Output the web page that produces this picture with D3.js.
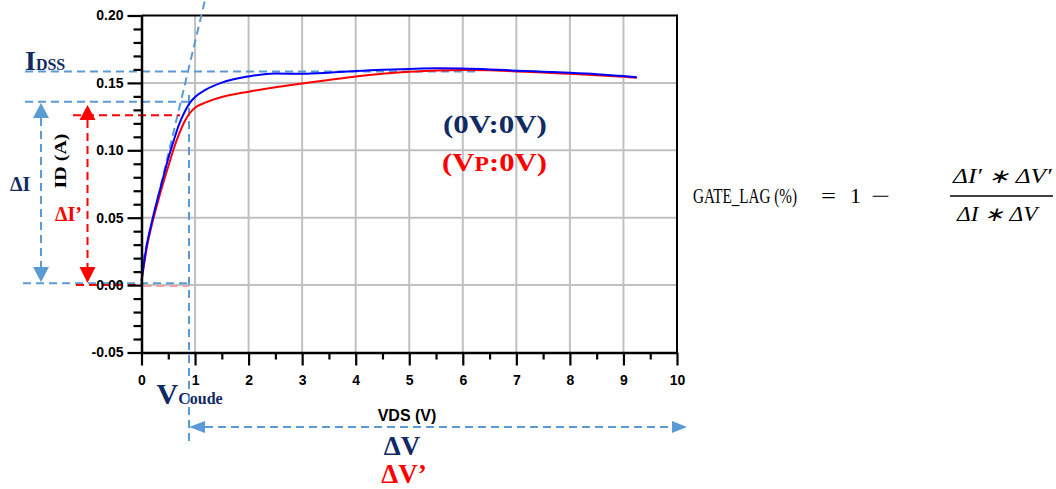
<!DOCTYPE html>
<html><head><meta charset="utf-8">
<script src="https://cdn.jsdelivr.net/npm/d3@7"></script>
<style>body{margin:0;background:#fff}</style>
</head><body>
<svg id="c" width="1056" height="489"></svg>
<script>
// ---- data ----
const vds    = [0,0.1,0.2,0.3,0.4,0.5,0.6,0.7,0.8,0.9,1.0,1.2,1.5,2.0,2.5,3.0,3.5,4.0,4.5,5.0,5.5,6.0,6.5,7.0,7.5,8.0,8.5,9.0,9.25];
const idBlue = [0.003,0.030,0.048,0.064,0.079,0.094,0.107,0.119,0.128,0.135,0.1395,0.145,0.1502,0.1548,0.157,0.1567,0.1575,0.1588,0.1598,0.1604,0.1608,0.1606,0.160,0.1591,0.1583,0.1575,0.1565,0.1551,0.1542];
const idRed  = [0.003,0.028,0.046,0.061,0.075,0.088,0.101,0.112,0.121,0.1275,0.1315,0.1355,0.1395,0.1435,0.1468,0.1495,0.1522,0.1548,0.1568,0.1582,0.1592,0.1596,0.1593,0.1585,0.1577,0.1567,0.1557,0.1545,0.1538];
const xTicks = [0,1,2,3,4,5,6,7,8,9,10];
const xTickLabels = ["0","1","2","3","4","5","6","7","8","9","10"];
const yTicks = [-0.05,0,0.05,0.10,0.15,0.20];
const yTickLabels = ["-0.05","0.00","0.05","0.10","0.15","0.20"];
const seriesNames = ["(0V:0V)","(VP:0V)"];
// annotation levels (data units)
const iDss = 0.1585, iKnee = 0.136, iKneeP = 0.126, vKnee = 0.887;
const tangent = [[0.019,0.017],[1.186,0.2115]];

const svg = d3.select("#c");
const x = d3.scaleLinear([0,10],[141.5,677]);
const y = d3.scaleLinear([-0.05,0.20],[352.5,15.5]);
const NAVY = "#102a64", LB = "#5b9bd5", GRID = "#c0c0c0";
const SERIF = "'Liberation Serif','Times New Roman',serif";
const SANS = "'Liberation Sans',Arial,sans-serif";

// grid
const g = svg.append("g");
g.selectAll("line.v").data(xTicks.slice(1,-1)).join("line")
  .attr("x1",d=>x(d)).attr("x2",d=>x(d)).attr("y1",y(0.2)).attr("y2",y(-0.05))
  .attr("stroke",GRID).attr("stroke-width",2);
g.selectAll("line.h").data(yTicks.slice(1,-1)).join("line")
  .attr("x1",x(0)).attr("x2",x(10)).attr("y1",d=>y(d)).attr("y2",d=>y(d))
  .attr("stroke",GRID).attr("stroke-width",2);
// border top / right
svg.append("line").attr("x1",x(0)).attr("x2",x(10)+1).attr("y1",y(0.2)).attr("y2",y(0.2)).attr("stroke","#000").attr("stroke-width",2);
svg.append("line").attr("x1",x(10)).attr("x2",x(10)).attr("y1",y(0.2)).attr("y2",y(-0.05)).attr("stroke","#000").attr("stroke-width",2);

// dashed annotation lines
const ann = svg.append("g").attr("fill","none").attr("stroke-width",2).attr("stroke-dasharray","8,5");
function seg(x1,y1,x2,y2,c){ ann.append("line").attr("x1",x1).attr("y1",y1).attr("x2",x2).attr("y2",y2).attr("stroke",c); }
seg(x(tangent[0][0]),y(tangent[0][1]),x(tangent[1][0]),y(tangent[1][1]),LB);
seg(25,y(iDss),476,y(iDss),LB);
seg(25,y(iKnee),x(vKnee),y(iKnee),LB);
seg(73,y(iKneeP),180,y(iKneeP),"#ff0000");
seg(x(vKnee),95,x(vKnee),442,LB);
seg(23,283.3,x(vKnee),283.3,LB);
seg(76,y(0),x(0),y(0),"#ff0000");
seg(x(0)+2,y(0)+1,x(vKnee),y(0)+1,"#f2a0a0");
seg(41,118,41,267,LB);
seg(87.5,120,87.5,267,"#ff0000");
seg(205,427,672,427,LB);

// arrowheads
const ah = svg.append("g");
function tri(pts,c){ ah.append("path").attr("d","M"+pts.map(p=>p.join(",")).join("L")+"Z").attr("fill",c); }
tri([[41,103],[33,118],[49,118]],LB);
tri([[41,282],[33,267],[49,267]],LB);
tri([[87.5,105],[79.5,120],[95.5,120]],"#ff0000");
tri([[87.5,283],[79.5,267],[95.5,267]],"#ff0000");
tri([[189,427],[205,421],[205,433]],LB);
tri([[687,427],[672,421],[672,433]],LB);

// curves
const line = d3.line().x((d,i)=>x(vds[i])).y(d=>y(d)).curve(d3.curveMonotoneX);
svg.append("path").attr("d",line(idRed)).attr("fill","none").attr("stroke","#ff0000").attr("stroke-width",2);
svg.append("path").attr("d",line(idBlue)).attr("fill","none").attr("stroke","#0000ff").attr("stroke-width",2);

// axes
svg.append("g").attr("transform",`translate(${x(0)},0)`)
  .call(d3.axisLeft(y).tickValues(yTicks).tickFormat((d,i)=>yTickLabels[i]).tickSizeInner(14).tickSizeOuter(0).tickPadding(4));
const yMinor = d3.range(-0.04,0.2,0.01).filter(v=>Math.abs(Math.round(v*100)%5)!==0);
svg.append("g").attr("transform",`translate(${x(0)},0)`)
  .call(d3.axisLeft(y).tickValues(yMinor).tickFormat("").tickSizeInner(8).tickSizeOuter(0))
  .call(a=>a.select(".domain").remove());
svg.append("g").attr("transform",`translate(0,${y(-0.05)})`)
  .call(d3.axisBottom(x).tickValues(xTicks).tickFormat((d,i)=>xTickLabels[i]).tickSizeInner(13).tickSizeOuter(0).tickPadding(10));
const xMinor = d3.range(0.5,10,1);
svg.append("g").attr("transform",`translate(0,${y(-0.05)})`)
  .call(d3.axisBottom(x).tickValues(xMinor).tickFormat("").tickSizeInner(7).tickSizeOuter(0))
  .call(a=>a.select(".domain").remove());
svg.selectAll(".tick line").attr("stroke","#000").attr("stroke-width",2.2);
svg.selectAll(".domain").attr("stroke","#000").attr("stroke-width",2.5);
svg.selectAll(".tick text").attr("font-family",SANS).attr("font-weight","bold").attr("font-size",14).attr("fill","#000");

// titles
svg.append("text").attr("x",407).attr("y",421).attr("text-anchor","middle")
  .attr("font-family",SANS).attr("font-weight","bold").attr("font-size",16).text("VDS (V)");
svg.append("text").attr("transform","translate(66,161) rotate(-90)").attr("text-anchor","middle")
  .attr("font-family",SERIF).attr("font-weight","bold").attr("font-size",17).attr("textLength",55).attr("lengthAdjust","spacingAndGlyphs").text("ID (A)");

// horizontal fit helper: scale a text so its width becomes len, left edge at x0
function fit(t,x0,y0,len){
  const w = t.node().getComputedTextLength();
  t.attr("x",0).attr("y",0).attr("transform",`translate(${x0},${y0}) scale(${len/w},1)`);
  return t;
}

// labels
function lab(xp,yp,parts,anchor){
  const t = svg.append("text").attr("x",xp).attr("y",yp).attr("font-family",SERIF).attr("font-weight","bold").attr("text-anchor",anchor||"start");
  parts.forEach(p=>t.append("tspan").attr("font-size",p[1]).attr("fill",p[2]).text(p[0]));
  return t;
}
lab(25,70,[["I",28,NAVY],["DSS",16,NAVY]]);
lab(10,191,[["ΔI",20,NAVY]]);
lab(55,221,[["ΔI’",20,"#ff0000"]]);
lab(156.5,404,[["V",30,NAVY],["Coude",16,NAVY]]);
lab(402,455,[["ΔV",27,NAVY]],"middle");
lab(404,483,[["ΔV’",27,"#ff0000"]],"middle");
fit(lab(0,0,[[seriesNames[0],26,NAVY]]),443,133,104);
fit(lab(0,0,[["(V",26,"#ff0000"],["P",20,"#ff0000"],[":0V)",26,"#ff0000"]]),442,171,105);

// formula
const fx = svg.append("g").attr("font-family",SERIF).attr("fill","#000");
function ft(xp,yp,txt,size,len,it){
  const t = fx.append("text").attr("font-size",size).text(txt);
  if(it) t.attr("font-style","italic");
  return fit(t,xp,yp,len);
}
ft(693,203,"GATE_LAG (%)",20,104);
ft(821,203,"=",21,15);
ft(850,203,"1",21,11);
ft(871,203,"−",21,19);
fx.append("line").attr("x1",950).attr("x2",1053).attr("y1",196).attr("y2",196).attr("stroke","#000").attr("stroke-width",1.4);
ft(953,183,"ΔI′ ∗ ΔV′",20,99,true);
ft(957,221,"ΔI ∗ ΔV",20,81,true);
</script>
</body></html>
